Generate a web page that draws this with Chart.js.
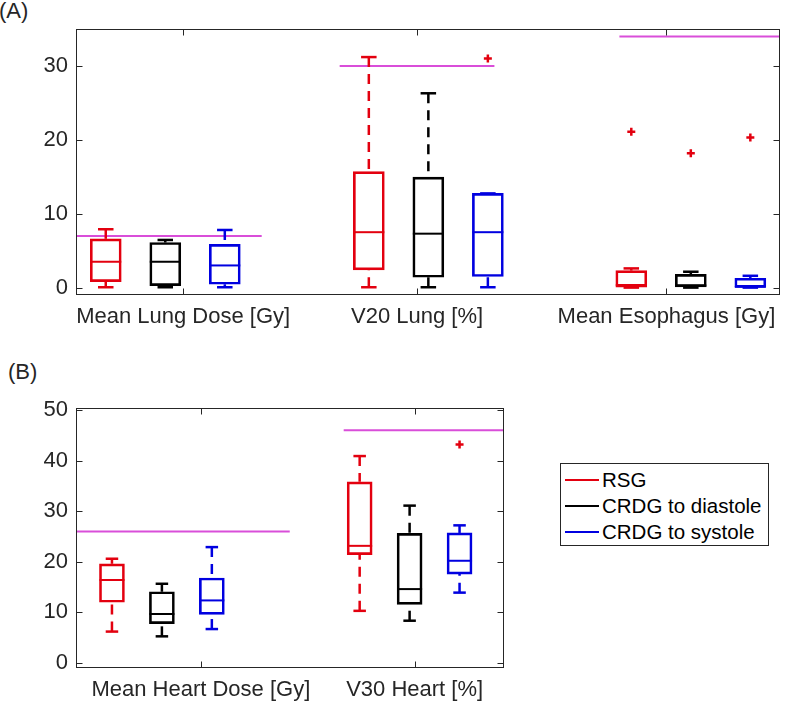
<!DOCTYPE html>
<html>
<head>
<meta charset="utf-8">
<script src="https://cdn.jsdelivr.net/npm/chart.js"></script>
<style>
  body { margin: 0; background: #fff; width: 786px; height: 703px; position: relative; overflow: hidden;
         font-family: "Liberation Sans", Arial, sans-serif; }
  .tag { position: absolute; font-size: 22px; color: #262626; line-height: 22px; }
  .wrap { position: absolute; left: 0; width: 786px; }
  #legend { position: absolute; left: 560px; top: 463px; width: 207px; height: 78px; padding-top: 3px;
            border: 1px solid #262626; background: #fff; }
  #legend .row { height: 26px; display: flex; align-items: center; font-size: 20.5px; color: #000; }
  #legend .swatch { width: 34px; height: 2px; margin: 0 3px 0 4px; }
</style>
</head>
<body>
<div class="tag" style="left:-1px; top:0px">(A)</div>
<div class="wrap" style="top:0; height:345px"><canvas id="chartA"></canvas></div>
<div class="tag" style="left:8px; top:361px">(B)</div>
<div class="wrap" style="top:360px; height:343px"><canvas id="chartB"></canvas></div>
<div id="legend"></div>

<script>
// series shared by both panels
const seriesNames = ["RSG", "CRDG to diastole", "CRDG to systole"];
const seriesColors = ["#e3000f", "#000000", "#0000e0"];
const outlierColor = "#e3000f";
const limitColor = "#d94ed9";

// (A)  each entry: [min, q1, median, q3, max]
const categoriesA = ["Mean Lung Dose [Gy]", "V20 Lung [%]", "Mean Esophagus [Gy]"];
const rsgA      = [[0.05, 0.8, 3.5, 6.6, 7.9], [0.05, 2.4, 7.5, 15.7, 31.2], [0, 0.05, 0.35, 2.3, 2.6]];
const diastoleA = [[0.05, 0.27, 3.5, 6.1, 6.45], [0.05, 1.4, 7.3, 14.95, 26.3], [0, 0.1, 0.3, 1.8, 2.15]];
const systoleA  = [[0.05, 0.45, 3.0, 5.86, 7.8], [0.05, 1.5, 7.5, 12.75, 12.75], [0, 0.05, 0.1, 1.27, 1.6]];
const rsgOutA      = [[], [], [21.1]];
const diastoleOutA = [[], [], [18.2]];
const systoleOutA  = [[], [31.0], [20.3]];
const limitsA    = [7, 30, 34];
const limitFromA = [0, 4.43, 9.13];
const limitToA   = [3.12, 7.03, 11.82];
const centersA   = [1.5, 5.92, 10.33];
const tickPosA   = [1.8, 5.73, 9.92];
const yTicksA    = [0, 10, 20, 30];

// (B)
const categoriesB = ["Mean Heart Dose [Gy]", "V30 Heart [%]"];
const rsgB      = [[6.2, 12.0, 16.4, 19.6, 20.6], [10.3, 21.4, 23.15, 35.8, 40.9]];
const diastoleB = [[5.26, 7.76, 9.67, 14.07, 15.65], [8.35, 11.57, 14.6, 25.6, 31.1]];
const systoleB  = [[6.7, 9.6, 12.36, 16.8, 22.9], [13.9, 17.56, 20.2, 25.7, 27.2]];
const rsgOutB      = [[], []];
const diastoleOutB = [[], []];
const systoleOutB  = [[], [43.2]];
const limitsB    = [26, 46];
const limitFromB = [0, 5.36];
const limitToB   = [4.28, 8.57];
const centersB   = [1.72, 6.68];
const tickPosB   = [2.5, 6.78];
const yTicksB    = [0, 10, 20, 30, 40, 50];

Chart.defaults.font.family = '"Liberation Sans", Arial, sans-serif';
Chart.defaults.font.size = 22;
Chart.defaults.color = "#262626";

// medians, dashed whiskers and caps, placed from the box elements
const whiskers = {
  id: "whiskers",
  afterDatasetsDraw(chart) {
    const ctx = chart.ctx, y = chart.scales.y;
    const seg = (x1, y1, x2, y2) => { ctx.beginPath(); ctx.moveTo(x1, y1); ctx.lineTo(x2, y2); ctx.stroke(); };
    chart.data.datasets.forEach((ds, i) => {
      if (!ds.stats) return;
      chart.getDatasetMeta(i).data.forEach((bar, g) => {
        const [mn, q1, md, q3, mx] = ds.stats[g];
        const cx = bar.x, hw = bar.width / 2, cw = hw / 2;
        ctx.save();
        ctx.strokeStyle = ds.borderColor;
        ctx.lineWidth = 2;
        seg(cx - hw, y.getPixelForValue(md), cx + hw, y.getPixelForValue(md));
        ctx.lineWidth = 2.5;
        seg(cx - cw, y.getPixelForValue(mx), cx + cw, y.getPixelForValue(mx));
        seg(cx - cw, y.getPixelForValue(mn), cx + cw, y.getPixelForValue(mn));
        ctx.setLineDash([10, 7]);
        seg(cx, y.getPixelForValue(mx), cx, y.getPixelForValue(q3));
        seg(cx, y.getPixelForValue(mn), cx, y.getPixelForValue(q1));
        ctx.restore();
      });
    });
  }
};

// axes box with inward ticks on all four sides
const frame = {
  id: "frame",
  afterDraw(chart) {
    const { ctx, chartArea: a, scales: { x, y } } = chart;
    const L = Math.round(a.left) + 0.5, R = Math.round(a.right) - 0.5;
    const T = Math.round(a.top) + 0.5, B = Math.round(a.bottom) - 0.5;
    ctx.save();
    ctx.strokeStyle = "#262626";
    ctx.lineWidth = 1;
    ctx.strokeRect(L, T, R - L, B - T);
    ctx.beginPath();
    y.ticks.forEach(t => {
      const py = Math.round(y.getPixelForValue(t.value)) + 0.5;
      ctx.moveTo(L, py); ctx.lineTo(L + 6, py);
      ctx.moveTo(R, py); ctx.lineTo(R - 6, py);
    });
    x.ticks.forEach(t => {
      const px = Math.round(x.getPixelForValue(t.value)) + 0.5;
      ctx.moveTo(px, B); ctx.lineTo(px, B - 6);
      ctx.moveTo(px, T); ctx.lineTo(px, T + 6);
    });
    ctx.stroke();
    ctx.restore();
  }
};

function boxPanel(id, p) {
  const datasets = [];
  p.stats.forEach((st, s) => {
    datasets.push({
      type: "bar",
      label: seriesNames[s],
      data: st.map((v, g) => ({ x: p.centers[g] + (s - 1), y: [v[1], v[3]] })),
      stats: st,
      backgroundColor: "rgba(0,0,0,0)",
      borderColor: seriesColors[s],
      borderWidth: 2,
      borderSkipped: false,
      barThickness: p.boxWidth,
      grouped: false
    });
  });
  p.limits.forEach((v, i) => {
    datasets.push({
      type: "line",
      data: [{ x: p.limFrom[i], y: v }, { x: p.limTo[i], y: v }],
      borderColor: limitColor,
      borderWidth: 2,
      pointRadius: 0,
      fill: false
    });
  });
  const outPts = [];
  p.outliers.forEach((perGroup, s) => perGroup.forEach((vals, g) =>
    vals.forEach(v => outPts.push({ x: p.centers[g] + (s - 1), y: v }))));
  datasets.push({
    type: "scatter",
    data: outPts,
    pointStyle: "cross",
    pointRadius: 4,
    borderColor: outlierColor,
    borderWidth: 2.5
  });

  new Chart(document.getElementById(id), {
    type: "bar",
    data: { datasets },
    options: {
      responsive: true,
      maintainAspectRatio: false,
      animation: false,
      layout: { padding: p.padding },
      plugins: { legend: { display: false }, tooltip: { enabled: false } },
      scales: {
        x: {
          type: "linear", min: 0, max: p.xMax, offset: false,
          grid: { display: false, drawTicks: false }, border: { display: false },
          afterBuildTicks: s => { s.ticks = p.tickPos.map(v => ({ value: v })); },
          ticks: { autoSkip: false, maxRotation: 0, padding: 9, callback: (v, i) => p.categories[i] },
          afterFit: s => { s.height = p.xAxisHeight; }
        },
        y: {
          type: "linear", min: -1, max: p.yMax,
          grid: { display: false, drawTicks: false }, border: { display: false },
          afterBuildTicks: s => { s.ticks = p.yTicks.map(v => ({ value: v })); },
          ticks: { padding: 8 },
          afterFit: s => { s.width = 76; }
        }
      }
    },
    plugins: [whiskers, frame]
  });
}

boxPanel("chartA", {
  categories: categoriesA, stats: [rsgA, diastoleA, systoleA],
  outliers: [rsgOutA, diastoleOutA, systoleOutA],
  limits: limitsA, limFrom: limitFromA, limTo: limitToA,
  centers: centersA, tickPos: tickPosA, yTicks: yTicksA,
  xMax: 11.82, yMax: 35, boxWidth: 31, xAxisHeight: 50,
  padding: { left: 0, top: 29, right: 1, bottom: 0 }
});

boxPanel("chartB", {
  categories: categoriesB, stats: [rsgB, diastoleB, systoleB],
  outliers: [rsgOutB, diastoleOutB, systoleOutB],
  limits: limitsB, limFrom: limitFromB, limTo: limitToB,
  centers: centersB, tickPos: tickPosB, yTicks: yTicksB,
  xMax: 8.57, yMax: 50.4, boxWidth: 25, xAxisHeight: 35,
  padding: { left: 0, top: 48, right: 282, bottom: 0 }
});

// legend box
const legend = document.getElementById("legend");
seriesNames.forEach((name, s) => {
  const row = document.createElement("div");
  row.className = "row";
  const sw = document.createElement("span");
  sw.className = "swatch";
  sw.style.background = seriesColors[s];
  const tx = document.createElement("span");
  tx.textContent = name;
  row.appendChild(sw);
  row.appendChild(tx);
  legend.appendChild(row);
});
</script>
</body>
</html>
